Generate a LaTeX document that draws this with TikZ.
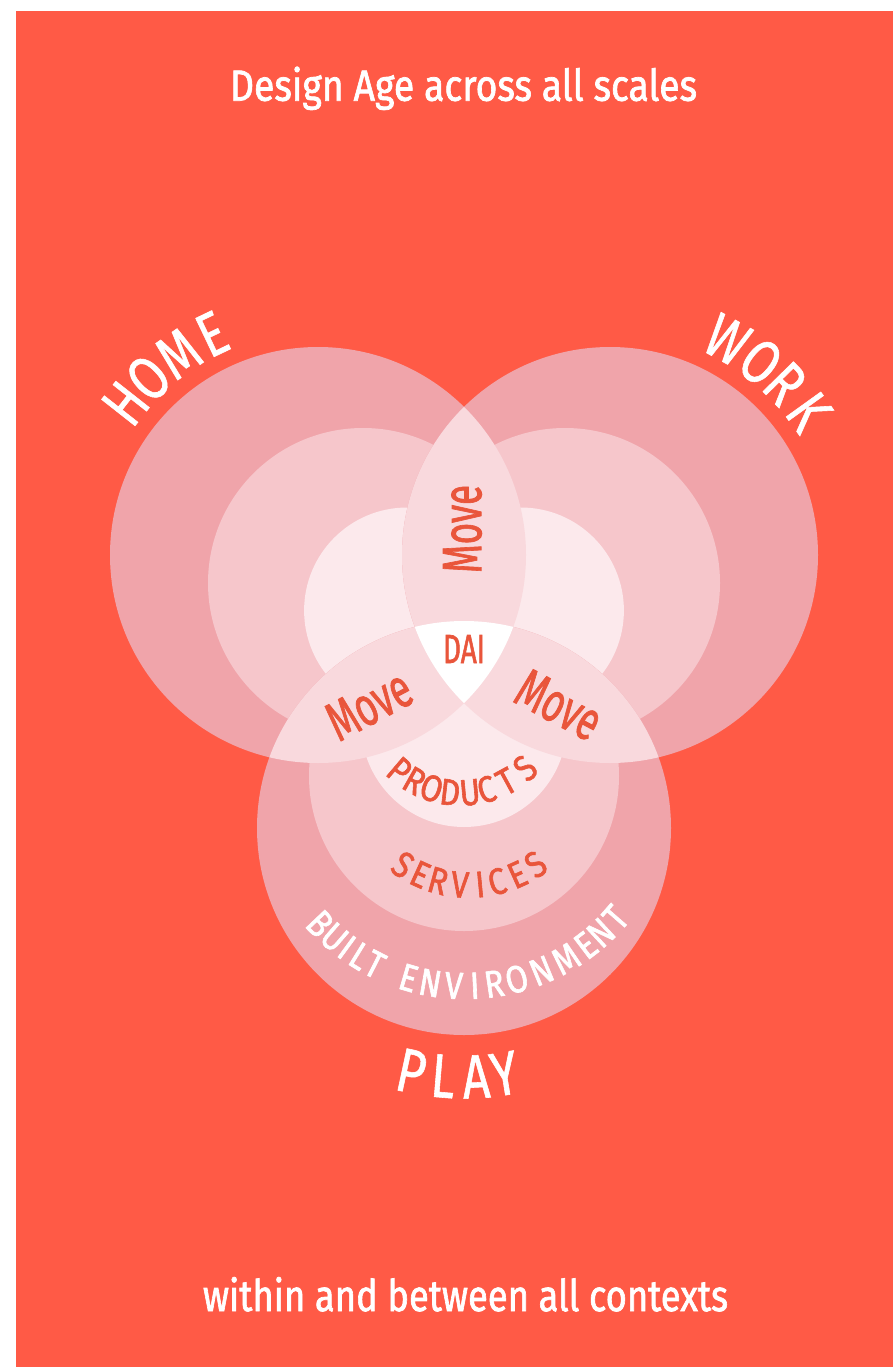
\documentclass[tikz,border=0pt]{standalone}
\usepackage{fontspec}
\setmainfont{Fira Sans}[FakeBold=1.7]
\newfontfamily\cond[FakeStretch=0.85,FakeBold=1.6]{Fira Sans}
\newfontfamily\condl[FakeStretch=0.78,FakeBold=0.9]{Fira Sans}
\usetikzlibrary{calc}
\definecolor{bg}{HTML}{FF5A46}
\definecolor{ringA}{HTML}{F0A4AA}
\definecolor{ringB}{HTML}{F6C6CB}
\definecolor{ringC}{HTML}{FCE9EC}
\definecolor{lens}{HTML}{F9D9DD}
\definecolor{txtor}{HTML}{E9553B}
\begin{document}
\begin{tikzpicture}[x=1pt,y=1pt,
  lbl/.style={inner sep=0pt,outer sep=0pt},
  whitetxt/.style={lbl,text=white},
  oratxt/.style={lbl,text=txtor},
  bigletter/.style={whitetxt,font=\condl\fontsize{62}{62}\selectfont},
  smallletter/.style={oratxt,font=\cond\fontsize{37}{37}\selectfont},
  midletter/.style={whitetxt,font=\cond\fontsize{38}{38}\selectfont}]
\useasboundingbox (0,0) rectangle (893,-1367);
\fill[white] (0,0) rectangle (893,-1367);
\fill[bg] (16,-11) rectangle (893,-1367);

\coordinate (hc) at (318,-555);
\coordinate (wc) at (610,-555);
\coordinate (pc) at (464,-828);

% HOME circles
\fill[ringA] (hc) circle[radius=208];
\fill[ringB] (363,-583) circle[radius=155];
\fill[ringC] (407.1,-610.5) circle[radius=103];
% WORK circles
\fill[ringA] (wc) circle[radius=208];
\fill[ringB] (565,-583) circle[radius=155];
\fill[ringC] (520.9,-610.5) circle[radius=103];
% PLAY circles
\fill[ringA] (pc) circle[radius=207];
\fill[ringB] (464,-776) circle[radius=155];
\fill[ringC] (464,-724) circle[radius=103];

% pairwise overlaps
\begin{scope}
  \clip (hc) circle[radius=208];
  \fill[lens] (wc) circle[radius=208];
  \fill[lens] (pc) circle[radius=207];
\end{scope}
\begin{scope}
  \clip (wc) circle[radius=208];
  \fill[lens] (pc) circle[radius=207];
\end{scope}
% triple overlap
\begin{scope}
  \clip (hc) circle[radius=208];
  \clip (wc) circle[radius=208];
  \fill[white] (pc) circle[radius=207];
\end{scope}

% titles
\node[whitetxt,anchor=base] (title) at (463.5,-100.7) {\resizebox{467pt}{34pt}{Design Age across all scales}};
\node[whitetxt,anchor=base] (footer) at (465.5,-1311) {\resizebox{525pt}{34pt}{within and between all contexts}};

% Move / DAI
\node[oratxt,rotate=90] (movetop) at (462.5,-529) {\resizebox{88pt}{38pt}{Move}};
\node[oratxt,rotate=28] (moveleft) at (369,-705) {\resizebox{88pt}{38pt}{Move}};
\node[oratxt,rotate=-28] (moveright) at (559,-705) {\resizebox{88pt}{38pt}{Move}};
\node[oratxt] (dai) at (464,-649) {\resizebox{42pt}{28pt}{DAI}};

% HOME
\foreach \ch/\a [count=\i] in {H/141.8,O/133.8,M/124.7,E/115.6}
  \node[bigletter,rotate=\a-90] (home\i) at ($(hc)+(\a:245)$) {\ch};
% WORK
\foreach \ch/\a [count=\i] in {W/61.4,O/52,R/44.4,K/35.7}
  \node[bigletter,rotate=\a-90] (work\i) at ($(wc)+(\a:245)$) {\ch};
% PLAY
\foreach \ch/\a [count=\i] in {P/257.8,L/265.2,A/272.8,Y/279.3}
  \node[bigletter,rotate=\a+90] (play\i) at ($(pc)+(\a:249)$) {\ch};

% PRODUCTS
\coordinate (prc) at (461,-698);
\foreach \ch/\a [count=\i] in {P/229.6,R/240.7,O/252,D/263.4,U/275.4,C/285.6,T/298.6,S/312.5}
  \node[smallletter,rotate=\a+90] (prod\i) at ($(prc)+(\a:95)$) {\ch};
% SERVICES
\coordinate (svc) at (469,-767);
\foreach \ch/\a [count=\i] in {S/236,E/245.6,R/254.8,V/265.6,I/275.4,C/283.8,E/294.2,S/304.4}
  \node[smallletter,rotate=\a+90] (serv\i) at ($(svc)+(\a:118)$) {\ch};
% BUILT ENVIRONMENT
\coordinate (bec) at (465,-786);
\foreach \ch/\a [count=\i] in {B/223.5,U/229.2,I/233.8,L/238.3,T/243.2,E/253.6,N/260,V/266.8,I/272.8,R/278.4,O/285,N/292.5,M/300.3,E/307.2,N/312.8,T/318.9}
  \node[midletter,rotate=\a+90] (built\i) at ($(bec)+(\a:200)$) {\ch};
\end{tikzpicture}
\end{document}
